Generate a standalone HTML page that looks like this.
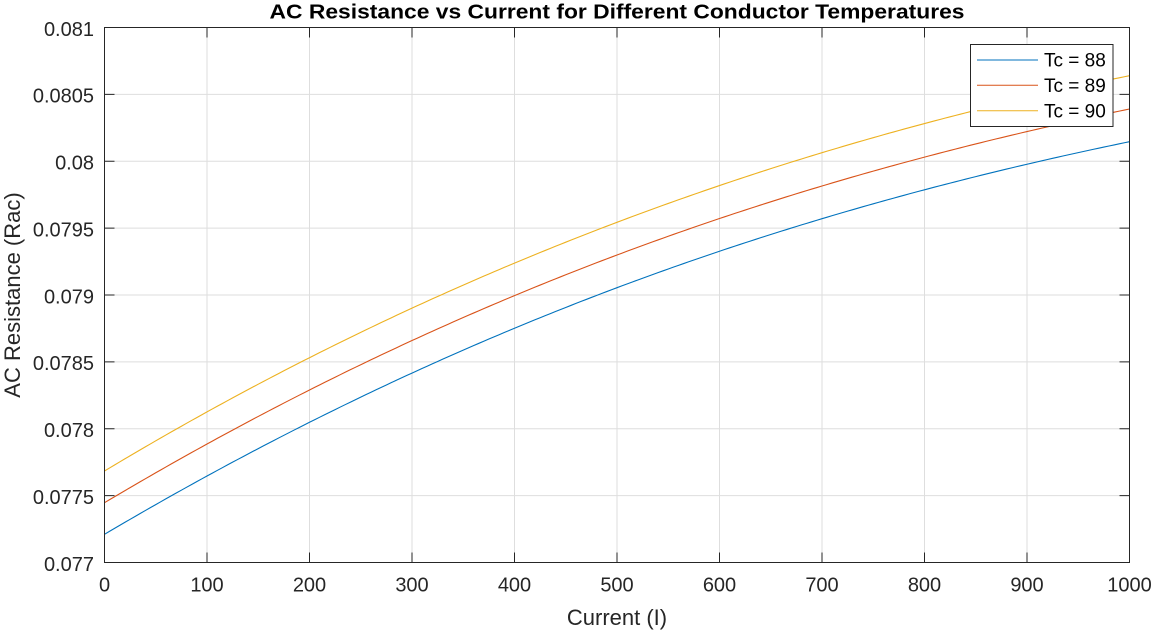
<!DOCTYPE html>
<html>
<head>
<meta charset="utf-8">
<style>
html,body{margin:0;padding:0;background:#fff;}
svg{display:block;}
text{font-family:"Liberation Sans",Arial,sans-serif;}
</style>
</head>
<body>
<svg id="chart" width="1155" height="630" viewBox="0 0 1155 630" xmlns="http://www.w3.org/2000/svg">
<rect x="0" y="0" width="1155" height="630" fill="#fff"/>
<g id="grid" stroke="#dedede" stroke-width="1"></g>
<g id="curves" fill="none" stroke-width="1.1"></g>
<g id="axes" stroke="#262626" stroke-width="1" fill="none"></g>
<g id="ticklabels" fill="#262626" font-size="20"></g>
<text x="617" y="18.5" font-size="20" font-weight="bold" fill="#000" text-anchor="middle" textLength="695" lengthAdjust="spacingAndGlyphs">AC Resistance vs Current for Different Conductor Temperatures</text>
<text x="617" y="625" font-size="22" fill="#262626" text-anchor="middle">Current (I)</text>
<text transform="translate(20,295) rotate(-90)" font-size="22" fill="#262626" text-anchor="middle">AC Resistance (Rac)</text>
<g id="legend">
<rect x="970.5" y="44.5" width="142.5" height="82" fill="#fff" stroke="#262626" stroke-width="1"/>
<line x1="977" y1="60" x2="1038" y2="60" stroke="#0072BD" stroke-width="1"/>
<line x1="977" y1="85.3" x2="1038" y2="85.3" stroke="#D95319" stroke-width="1"/>
<line x1="977" y1="110.7" x2="1038" y2="110.7" stroke="#EDB120" stroke-width="1"/>
<text x="1044" y="66.7" font-size="19" fill="#000">Tc = 88</text>
<text x="1044" y="92" font-size="19" fill="#000">Tc = 89</text>
<text x="1044" y="117.3" font-size="19" fill="#000">Tc = 90</text>
</g>
</svg>
<script>
(function(){
var NS="http://www.w3.org/2000/svg";
var x0=104.5,x1=1129.5,y0=27.5,y1=562.5;
function el(tag,attrs,parent,txt){var e=document.createElementNS(NS,tag);for(var k in attrs)e.setAttribute(k,attrs[k]);if(txt!==undefined)e.textContent=txt;parent.appendChild(e);return e;}
var grid=document.getElementById('grid'),axes=document.getElementById('axes'),tl=document.getElementById('ticklabels');
var i,x,y;
for(i=0;i<=10;i++){
  x=x0+i*(x1-x0)/10;
  if(i>0&&i<10) el('line',{x1:x,y1:y0,x2:x,y2:y1},grid);
  el('line',{x1:x,y1:y1,x2:x,y2:y1-10},axes);
  el('line',{x1:x,y1:y0,x2:x,y2:y0+10},axes);
  el('text',{x:x,y:591.7,'text-anchor':'middle'},tl,String(i*100));
}
var ylabs=['0.077','0.0775','0.078','0.0785','0.079','0.0795','0.08','0.0805','0.081'];
for(i=0;i<=8;i++){
  y=y1-i*(y1-y0)/8;
  if(i>0&&i<8) el('line',{x1:x0,y1:y,x2:x1,y2:y},grid);
  el('line',{x1:x0,y1:y,x2:x0+10,y2:y},axes);
  el('line',{x1:x1,y1:y,x2:x1-10,y2:y},axes);
  el('text',{x:94,y:y+8.3,'text-anchor':'end'},tl,ylabs[i]);
}
el('rect',{x:x0,y:y0,width:x1-x0,height:y1-y0},axes);
var ts=[0,0.2,0.5,0.7,1.0];
var series=[
 {c:'#0072BD',p:[534.3,422.3,287.7,218.7,141.7]},
 {c:'#D95319',p:[502.7,390,255,186,109]},
 {c:'#EDB120',p:[471,357.7,222.3,152.7,75.7]}
];
function lag(t,p){var s=0;for(var j=0;j<ts.length;j++){var L=1;for(var k=0;k<ts.length;k++){if(k!==j)L*=(t-ts[k])/(ts[j]-ts[k]);}s+=L*p[j];}return s;}
var cg=document.getElementById('curves');
series.forEach(function(s){
  var d='';
  for(var n=0;n<=200;n++){var t=n/200;var px=x0+t*(x1-x0);var py=lag(t,s.p);d+=(n?'L':'M')+px.toFixed(2)+','+py.toFixed(2);}
  el('path',{d:d,stroke:s.c},cg);
});
})();
</script>
</body>
</html>
